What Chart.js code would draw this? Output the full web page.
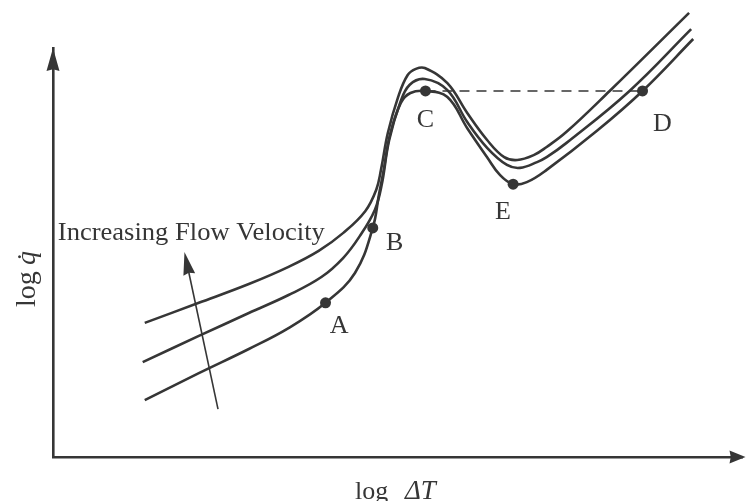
<!DOCTYPE html>
<html><head><meta charset="utf-8">
<script src="https://cdn.jsdelivr.net/npm/chart.js@4/dist/chart.umd.min.js"></script>
<style>html,body{margin:0;padding:0;background:#fff;overflow:hidden}canvas{display:block}</style>
</head><body>
<canvas id="c" width="748" height="501"></canvas>
<script>
// ---- data (arbitrary log units: log ΔT on x, log q̇ on y) ----
// lowest flow velocity
const lowX = [1.34,2.13,2.86,3.44,3.98,4.41,4.67,4.76,4.83,4.92,5.08,5.22,5.44,5.76,6.05,6.34,6.53,6.72,6.92,7.21,7.94,8.61,9.35];
const lowY = [1.39,2.05,2.64,3.15,3.77,4.50,5.60,6.41,7.02,7.87,8.66,8.90,8.95,8.80,8.04,7.33,6.89,6.67,6.72,7.02,7.97,8.95,10.22];
// medium flow velocity
const midX = [1.31,2.13,2.86,3.44,3.92,4.24,4.48,4.70,4.80,4.91,5.07,5.21,5.43,5.76,6.05,6.34,6.63,6.82,7.07,7.21,7.50,8.42,9.32];
const midY = [2.32,2.96,3.52,3.96,4.40,4.87,5.40,6.04,6.65,7.75,8.66,9.10,9.24,8.97,8.19,7.56,7.14,7.07,7.21,7.33,7.68,8.95,10.46];
// highest flow velocity
const highX = [1.34,2.13,2.86,3.44,3.88,4.24,4.56,4.72,4.79,4.89,5.04,5.18,5.30,5.43,5.76,6.05,6.34,6.59,6.78,7.02,7.21,7.50,8.13,9.29];
const highY = [3.28,3.77,4.23,4.65,5.04,5.48,6.01,6.53,7.02,7.92,8.80,9.34,9.49,9.51,9.14,8.41,7.75,7.33,7.26,7.38,7.58,7.95,8.95,10.86];
// marked points on the lowest curve
const pointNames = ['A','B','C','D','E'];
const pointX = [3.98,4.67,5.44,8.61,6.72];
const pointY = [3.77,5.60,8.95,8.95,6.67];
// dashed line C -> D
const dashX = [5.44,8.61];
const dashY = [8.95,8.95];
// flow velocity arrow (tail, head)
const arrowX = [2.41,1.92];
const arrowY = [1.17,5.01];
const arrowText = 'Increasing Flow Velocity';
const xTitle = ['log', '\u0394T'];
const yTitle = ['log', 'q\u0307'];

// ---- label placement (data coords) ----
const labelPos = {A:[4.18,3.20], B:[4.99,5.23], C:[5.44,8.24], D:[8.90,8.14], E:[6.57,5.99]};
const arrowTextPos = [0.07,5.31];

const INK = '#363636';
const SERIF = '"Liberation Serif", "Times New Roman", serif';
const xy = (xs, ys) => xs.map((x,i) => ({x, y: ys[i]}));
const curveStyle = {showLine:true, pointRadius:0, borderColor:INK, borderWidth:2.6, tension:0.4, fill:false, clip:false};

function arrowHead(ctx, tx, ty, angle, len, w) {
  ctx.save();
  ctx.translate(tx, ty); ctx.rotate(angle);
  ctx.beginPath();
  ctx.moveTo(0,0); ctx.lineTo(-len, -w/2); ctx.lineTo(-len*0.92, 0); ctx.lineTo(-len, w/2); ctx.closePath();
  ctx.fillStyle = INK; ctx.fill();
  ctx.restore();
}

const deco = {
  id:'deco',
  afterDraw(chart) {
    const {ctx, chartArea:a, scales:{x, y}} = chart;
    ctx.save();
    arrowHead(ctx, a.left, a.top, -Math.PI/2, 23, 13);
    arrowHead(ctx, a.right + 3, a.bottom, 0, 16, 13);
    const x0 = x.getPixelForValue(arrowX[0]), y0 = y.getPixelForValue(arrowY[0]);
    const x1 = x.getPixelForValue(arrowX[1]), y1 = y.getPixelForValue(arrowY[1]);
    const ang = Math.atan2(y1-y0, x1-x0);
    ctx.strokeStyle = INK; ctx.lineWidth = 1.6;
    ctx.beginPath(); ctx.moveTo(x0,y0); ctx.lineTo(x1 - 15*Math.cos(ang), y1 - 15*Math.sin(ang)); ctx.stroke();
    arrowHead(ctx, x1, y1, ang, 23, 12);
    ctx.fillStyle = INK;
    ctx.font = '26px ' + SERIF;
    ctx.textAlign = 'center'; ctx.textBaseline = 'middle';
    pointNames.forEach(n => {
      const p = labelPos[n];
      ctx.fillText(n, x.getPixelForValue(p[0]), y.getPixelForValue(p[1]));
    });
    ctx.textAlign = 'left'; ctx.textBaseline = 'alphabetic';
    ctx.font = '26px ' + SERIF;
    const tw = ctx.measureText(arrowText).width;
    const tx = x.getPixelForValue(arrowTextPos[0]), ty = y.getPixelForValue(arrowTextPos[1]);
    ctx.save(); ctx.translate(tx, ty); ctx.scale(267/tw, 1); ctx.fillText(arrowText, 0, 0); ctx.restore();
    ctx.font = '26px ' + SERIF;
    ctx.fillText(xTitle[0], 355, 499);
    ctx.font = 'italic 27px ' + SERIF;
    ctx.fillText(xTitle[1], 405, 499);
    ctx.save();
    ctx.translate(35, 307); ctx.rotate(-Math.PI/2);
    ctx.font = '28px ' + SERIF;
    ctx.fillText(yTitle[0], 0, 0);
    ctx.font = 'italic 28px ' + SERIF;
    ctx.fillText(yTitle[1], 42, 0);
    ctx.restore();
    ctx.restore();
  }
};

const hiddenTicks = {display:false};
new Chart(document.getElementById('c'), {
  type:'scatter',
  data:{datasets:[
    {data: xy(lowX, lowY), ...curveStyle},
    {data: xy(midX, midY), ...curveStyle},
    {data: xy(highX, highY), ...curveStyle},
    {data: xy(dashX, dashY), showLine:true, pointRadius:0, borderColor:INK, borderWidth:1.6, borderDash:[10,7], clip:false},
    {data: xy(pointX, pointY), showLine:false, pointRadius:5.5, pointBackgroundColor:INK, pointBorderWidth:0, clip:false}
  ]},
  options:{
    responsive:false, animation:false, events:[],
    layout:{padding:{left:53, top:48, right:1, bottom:44}},
    plugins:{legend:{display:false}, tooltip:{enabled:false}},
    scales:{
      x:{type:'linear', min:0, max:10.07, ticks:hiddenTicks, grid:{display:false, drawTicks:false, tickLength:0}, border:{display:true, color:INK, width:2.6}},
      y:{type:'linear', min:0, max:10, ticks:hiddenTicks, grid:{display:false, drawTicks:false, tickLength:0}, border:{display:true, color:INK, width:2.6}}
    }
  },
  plugins:[deco]
});
</script>
</body></html>
